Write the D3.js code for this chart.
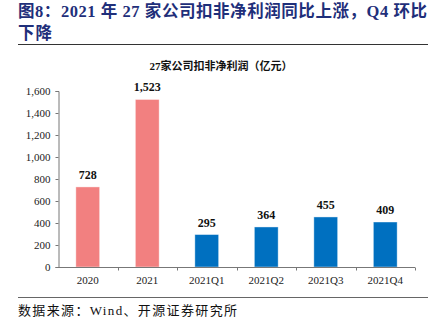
<!DOCTYPE html>
<html>
<head>
<meta charset="utf-8">
<script src="https://cdn.jsdelivr.net/npm/d3@7/dist/d3.min.js"></script>
<style>
  html, body { margin: 0; padding: 0; background: #fff; }
  svg { display: block; }
</style>
</head>
<body>
<script>
// Net profit excluding non-recurring items, 27 companies (亿元)
const categories = ["2020", "2021", "2021Q1", "2021Q2", "2021Q3", "2021Q4"];
const profits = [728, 1523, 295, 364, 455, 409];
const barColors = ["#F28080", "#F28080", "#0070C0", "#0070C0", "#0070C0", "#0070C0"];
const yTicks = [0, 200, 400, 600, 800, 1000, 1200, 1400, 1600];

const W = 446, H = 325;
const serif = "'Liberation Serif', 'Times New Roman', 'Noto Sans CJK SC', serif";

const svg = d3.select("body").append("svg")
  .attr("width", W).attr("height", H);

// Figure heading
const titleColor = "#1F2F7A";
svg.append("text")
  .attr("x", 18).attr("y", 17)
  .attr("font-family", serif).attr("font-weight", "bold")
  .attr("font-size", 16.5).attr("fill", titleColor)
  .attr("textLength", 409).attr("lengthAdjust", "spacing")
  .text("图8：2021 年 27 家公司扣非净利润同比上涨，Q4 环比");
svg.append("text")
  .attr("x", 18).attr("y", 39)
  .attr("font-family", serif).attr("font-weight", "bold")
  .attr("font-size", 16.5).attr("fill", titleColor)
  .attr("textLength", 34).attr("lengthAdjust", "spacing")
  .text("下降");
svg.append("line")
  .attr("x1", 18).attr("x2", 428).attr("y1", 44.5).attr("y2", 44.5)
  .attr("stroke", "#333").attr("stroke-width", 1);

// Chart title
svg.append("text")
  .attr("x", 221).attr("y", 70)
  .attr("text-anchor", "middle")
  .attr("font-family", serif).attr("font-weight", "bold")
  .attr("font-size", 11).attr("fill", "#111")
  .text("27家公司扣非净利润（亿元）");

// Scales
const xb = d3.scaleBand().domain(categories).range([58, 415]);
const y = d3.scaleLinear().domain([0, 1600]).range([267, 91]);

// Y axis
const yAxis = svg.append("g").attr("transform", "translate(58.5,0)")
  .call(d3.axisLeft(y).tickValues(yTicks).tickSize(3).tickFormat(d3.format(",")));
yAxis.select(".domain").attr("stroke", "#777");
yAxis.selectAll(".tick line").attr("stroke", "#777");
yAxis.selectAll(".tick text")
  .attr("font-family", serif).attr("font-size", 11).attr("fill", "#222").attr("x", -8);

// Bars
const bw = xb.bandwidth() * 0.4;
svg.append("g").selectAll("rect").data(categories).join("rect")
  .attr("x", (d) => xb(d) + (xb.bandwidth() - bw) / 2)
  .attr("y", (d, i) => y(profits[i]))
  .attr("width", bw)
  .attr("height", (d, i) => y(0) - y(profits[i]))
  .attr("fill", (d, i) => barColors[i])
  .attr("stroke", "rgba(255,255,255,0.5)").attr("stroke-width", 0.8);

// Value labels
svg.append("g").selectAll("text").data(categories).join("text")
  .attr("x", (d) => xb(d) + xb.bandwidth() / 2)
  .attr("y", (d, i) => y(profits[i]) - 8)
  .attr("text-anchor", "middle")
  .attr("font-family", serif).attr("font-weight", "bold")
  .attr("font-size", 12).attr("fill", "#111")
  .text((d, i) => d3.format(",")(profits[i]));

// X axis with boundary ticks between categories
const xAxisG = svg.append("g").attr("transform", "translate(0,267.5)");
xAxisG.append("line").attr("x1", 58).attr("x2", 415).attr("stroke", "#777");
const boundaries = categories.map((d) => xb(d)).concat([415]).slice(1);
xAxisG.selectAll("line.tk").data(boundaries).join("line")
  .attr("class", "tk")
  .attr("x1", (d) => Math.round(d) + 0.5).attr("x2", (d) => Math.round(d) + 0.5)
  .attr("y1", 0).attr("y2", 3).attr("stroke", "#777");
xAxisG.selectAll("text").data(categories).join("text")
  .attr("x", (d) => xb(d) + xb.bandwidth() / 2)
  .attr("y", 16)
  .attr("text-anchor", "middle")
  .attr("font-family", serif).attr("font-size", 11).attr("fill", "#222")
  .text((d) => d);

// Source note
svg.append("line")
  .attr("x1", 18).attr("x2", 428).attr("y1", 297.5).attr("y2", 297.5)
  .attr("stroke", "#666").attr("stroke-width", 1);
svg.append("text")
  .attr("x", 18).attr("y", 315)
  .attr("font-family", serif).attr("font-size", 13).attr("fill", "#111")
  .attr("textLength", 219).attr("lengthAdjust", "spacing")
  .text("数据来源：Wind、开源证券研究所");
</script>
</body>
</html>
